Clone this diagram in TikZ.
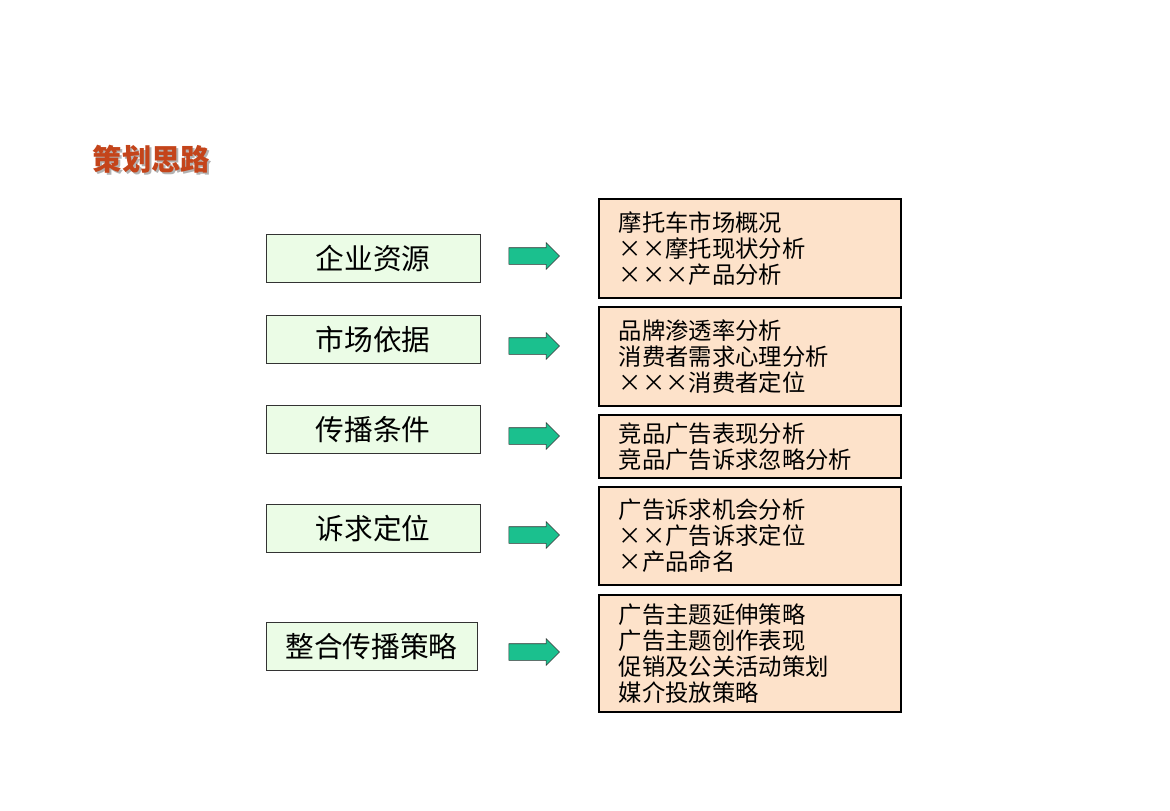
\documentclass[tikz,border=0pt]{standalone}
\usepackage{fontspec}
\newfontfamily\cjk{Noto Sans CJK SC}
\usepackage{tikz}
\usetikzlibrary{shapes.arrows,positioning}
\definecolor{boxgreen}{HTML}{EBFCE6}
\definecolor{boxpeach}{HTML}{FDE2CA}
\definecolor{arrowgreen}{HTML}{1BC08E}
\definecolor{titlered}{HTML}{C4441A}

\begin{document}
\begin{tikzpicture}[x=0.75pt,y=-0.75pt,
  stage/.style={draw=black!80, fill=boxgreen, minimum width=160.5pt, minimum height=36pt,
    inner sep=0pt, anchor=north west, font=\cjk\fontsize{21.5}{26}\selectfont},
  detail/.style={draw=black, line width=1.4pt, fill=boxpeach, text width=196.5pt, align=left,
    inner xsep=15pt, inner ysep=0pt, anchor=north west, font=\cjk\fontsize{17.5}{19.5}\selectfont},
  flow/.style={single arrow, draw=black!80, fill=arrowgreen, minimum height=38pt,
    single arrow head extend=3.75pt, inner xsep=0pt, inner ysep=6pt}]
\useasboundingbox (0,0) rectangle (1170,810);

% title
\node[anchor=west, text=black!30, font=\cjk\bfseries\fontsize{22}{26}\selectfont] (shadow) at (90,161) {策划思路};
\node[anchor=west, text=titlered, font=\cjk\bfseries\fontsize{22}{26}\selectfont] (title) at (88,159) {策划思路};

% left column
\node[stage] (res) at (266,234) {企业资源};
\node[stage] (mkt) at (266,315) {市场依据};
\node[stage] (com) at (266,405) {传播条件};
\node[stage] (pos) at (266,504) {诉求定位};
\node[stage, minimum width=158pt] (all) at (266,622) {整合传播策略};

% arrows
\node[flow] (a1) at (530,256) {};
\node[flow] (a2) at (530,346) {};
\node[flow] (a3) at (530,436) {};
\node[flow] (a4) at (530,535) {};
\node[flow] (a5) at (530,652) {};

% right column
\node[detail, minimum height=74.25pt] (d1) at (598,198)
  {摩托车市场概况\\××摩托现状分析\\×××产品分析};
\node[detail, minimum height=74.25pt] (d2) at (598,306)
  {品牌渗透率分析\\消费者需求心理分析\\×××消费者定位};
\node[detail, minimum height=47.25pt] (d3) at (598,414)
  {竞品广告表现分析\\竞品广告诉求忽略分析};
\node[detail, minimum height=73.5pt] (d4) at (598,486)
  {广告诉求机会分析\\××广告诉求定位\\×产品命名};
\node[detail, minimum height=87.75pt] (d5) at (598,594)
  {广告主题延伸策略\\广告主题创作表现\\促销及公关活动策划\\媒介投放策略};
\end{tikzpicture}
\end{document}
